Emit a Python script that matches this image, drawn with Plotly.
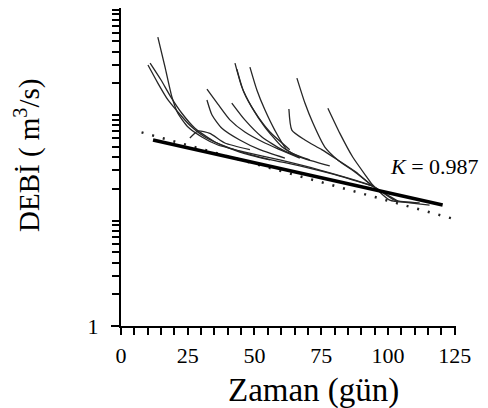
import plotly.graph_objects as go

# Recession curves (day, discharge m3/s)
curves = {
    "A": ([13.8, 16.5, 19.1, 21.3, 25.1, 30.3, 36.3, 46.4, 59.5, 74.5, 94.3, 102.5, 111.9],
          [548, 285, 148, 104, 77, 62, 52, 44.6, 37.5, 30.1, 21.2, 15.6, 14.7]),
    "B1": ([10.1, 13.8, 17.6, 21.3, 25.8, 31.4, 40.8, 52.0, 67.0, 82.0, 94.3],
           [298, 201, 139, 107, 80, 62, 48.7, 40, 32.9, 26.4, 21.2]),
    "B2": ([10.9, 15.0, 18.7, 22.8, 27.7, 35.2, 44.5, 55.8],
           [311, 215, 148, 104, 75, 55.5, 44.6, 37.5]),
    "C": ([32.2, 36.3, 40.8, 46.4, 53.9, 59.5, 67.0],
          [176, 127, 90, 69, 54.3, 47, 39.1]),
    "D": ([32.2, 34.1, 37.8, 44.5, 52.0, 61.4],
          [139, 100, 75, 58, 47, 39.1]),
    "E": ([41.5, 46.4, 52.8, 60.3, 67.0, 78.2],
          [130, 90, 62, 47, 40, 32.9]),
    "F": ([42.7, 45.3, 49.0, 53.9, 60.3, 64.0, 70.7],
          [311, 184, 119, 77, 50, 43.6, 37.5]),
    "F2": ([43.4, 46.0, 50.1, 55.8, 63.2],
           [273, 165, 107, 69, 47]),
    "G": ([48.3, 50.9, 53.9, 57.6, 62.1, 67.0],
          [285, 173, 112, 72, 47, 40]),
    "H": ([65.9, 68.9, 71.9, 76.3, 81.2, 87.6, 94.3],
          [224, 130, 84, 50, 37.5, 28.8, 21.2]),
    "I": ([62.9, 64.0, 68.9, 75.2, 81.2, 88.0, 94.3, 103.7],
          [114, 72, 58, 47, 37.5, 28.8, 21.2, 15.3]),
    "J": ([77.5, 82.0, 86.8, 92.1, 94.3, 100.7, 108.2, 115.6],
          [116, 67, 40, 25.8, 21.7, 15.6, 14.7, 14.0]),
    "hump": ([25.8, 28.8, 33.3, 38.9, 48.3],
             [60.5, 70.5, 67, 54.3, 47]),
}

# Master recession line (K = 0.987) and dotted fit line
master_days = [12, 120.5]
master_q = [58, 14.05]
fit_days = [7.7, 125]
fit_q = [68.5, 10.3]

x_major = [0, 25, 50, 75, 100, 125]
x_major_text = ["0", "25", "50", "75", "100", "125"]
x_minor = [v for v in range(5, 125, 5) if v % 25 != 0]
y_major = [1]
y_major_text = ["1"]
y_minor = [m * d for d in (1, 10, 100) for m in range(2, 11)]

fig = go.Figure()
for name, (d, q) in curves.items():
    fig.add_trace(go.Scatter(x=d, y=q, mode="lines",
                             line=dict(color="#262626", width=1.3, shape="spline", smoothing=0.6),
                             showlegend=False))

fig.add_trace(go.Scatter(x=fit_days, y=fit_q, mode="lines",
                         line=dict(color="#222222", width=2.5, dash="2px,9px"), showlegend=False))
fig.add_trace(go.Scatter(x=master_days, y=master_q, mode="lines",
                         line=dict(color="black", width=3.5), showlegend=False))

serif = "Liberation Serif"
L, R, T, B = 121, 32, 8, 82
W, H = 488, 408
pw, ph = W - L - R, H - T - B

def px(xp):
    return (xp - L) / pw

def py(yp):
    return (H - B - yp) / ph

fig.update_layout(
    width=W, height=H,
    margin=dict(l=L, r=R, t=T, b=B),
    paper_bgcolor="white", plot_bgcolor="white",
    font=dict(family=serif, color="black", size=22),
    xaxis=dict(range=[0, 125.5], tickmode="array", tickvals=x_major, ticktext=x_major_text,
               ticks="outside", ticklen=7, tickwidth=1.5, tickcolor="black",
               showline=True, linecolor="black", linewidth=2, showgrid=False, zeroline=False,
               tickfont=dict(family=serif, size=22), ticklabelstandoff=2,
               minor=dict(tickmode="array", tickvals=x_minor, ticks="outside", ticklen=7,
                          tickwidth=1.5, tickcolor="black", showgrid=False)),
    yaxis=dict(type="log", range=[0, 3.015], tickmode="array", tickvals=y_major, ticktext=y_major_text,
               ticks="outside", ticklen=8, tickwidth=1.5, tickcolor="black",
               showline=True, linecolor="black", linewidth=2, showgrid=False, zeroline=False,
               tickfont=dict(family=serif, size=22), ticklabelstandoff=8,
               minor=dict(tickmode="array", tickvals=y_minor, ticks="outside", ticklen=7,
                          tickwidth=1.5, tickcolor="black", showgrid=False)),
    annotations=[
        dict(text="Zaman (gün)", xref="paper", yref="paper", x=px(313), y=py(390),
             xanchor="center", yanchor="middle", showarrow=False,
             font=dict(family=serif, size=33)),
        dict(text="DEBİ ( m<sup>3</sup>/s)", xref="paper", yref="paper", x=px(27), y=py(155),
             xanchor="center", yanchor="middle", textangle=-90, showarrow=False,
             font=dict(family=serif, size=29)),
        dict(text="<i>K</i> = 0.987", xref="paper", yref="paper", x=px(388), y=py(166),
             xanchor="left", yanchor="middle", showarrow=False,
             font=dict(family=serif, size=22)),
    ],
)

fig.write_html("out.html")
